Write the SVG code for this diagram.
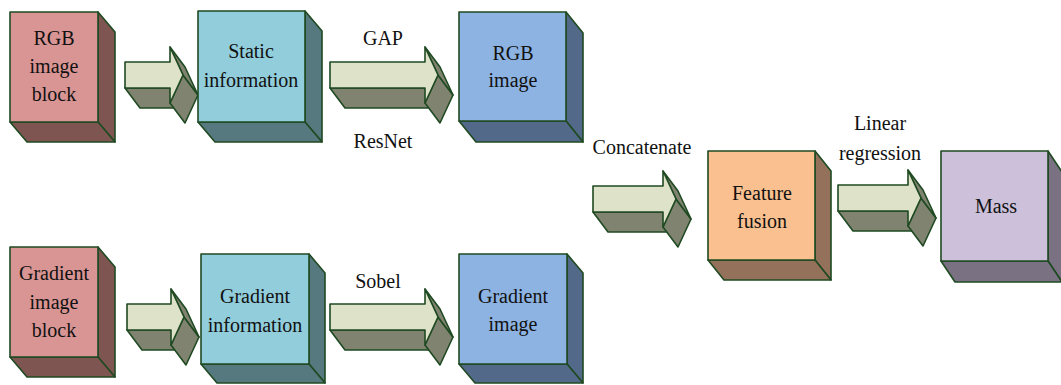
<svg xmlns="http://www.w3.org/2000/svg" width="1061" height="385" viewBox="0 0 1061 385">
  <style>
    .edge { stroke: #1f4a22; stroke-width: 1.6; stroke-linejoin: round; }
    text { font-family: 'Liberation Serif', Tinos, 'Times New Roman', 'DejaVu Serif', serif; font-size: 20px; fill: #111; text-anchor: middle; stroke: none; }
    .pink .f { fill: #d99594; } .pink .s { fill: #7f5551; }
    .cyan .f { fill: #92cddc; } .cyan .s { fill: #56787f; }
    .blue .f { fill: #8db3e2; } .blue .s { fill: #53698a; }
    .peach .f { fill: #fac08f; } .peach .s { fill: #94715a; }
    .lilac .f { fill: #ccc0da; } .lilac .s { fill: #7a7283; }
    .arrow .f { fill: #dde2c9; } .arrow .s { fill: #7f8370; }
  </style>

  <rect width="1061" height="385" fill="#ffffff"/>

  <!-- 3D block arrows -->
  <g id="connectors" class="arrow">
    <!-- RGB image block -> Static information (cy=75) -->
    <g class="edge">
      <polygon class="s" points="125,88 170,88 185,108 140,108"/>
      <polygon class="s" points="183,75 198,95 185,123 170,103"/>
      <polygon class="s" points="170,47 185,67 198,95 183,75"/>
      <polygon class="f" points="125,62 170,62 170,47 183,75 170,103 170,88 125,88"/>
    </g>
    <!-- Static information -> RGB image -->
    <g class="edge">
      <polygon class="s" points="330,88 425,88 440,108 345,108"/>
      <polygon class="s" points="438,75 453,95 440,123 425,103"/>
      <polygon class="s" points="425,47 440,67 453,95 438,75"/>
      <polygon class="f" points="330,62 425,62 425,47 438,75 425,103 425,88 330,88"/>
    </g>
    <!-- Gradient image block -> Gradient information (cy=317) -->
    <g class="edge">
      <polygon class="s" points="127,330 171,330 186,350 142,350"/>
      <polygon class="s" points="184,317 199,337 186,365 171,345"/>
      <polygon class="s" points="171,289 186,309 199,337 184,317"/>
      <polygon class="f" points="127,304 171,304 171,289 184,317 171,345 171,330 127,330"/>
    </g>
    <!-- Gradient information -> Gradient image -->
    <g class="edge">
      <polygon class="s" points="330,330 425,330 440,350 345,350"/>
      <polygon class="s" points="438,317 453,337 440,365 425,345"/>
      <polygon class="s" points="425,289 440,309 453,337 438,317"/>
      <polygon class="f" points="330,304 425,304 425,289 438,317 425,345 425,330 330,330"/>
    </g>
    <!-- Concatenate -> Feature fusion (cy=199) -->
    <g class="edge">
      <polygon class="s" points="593,212 663,212 678,232 608,232"/>
      <polygon class="s" points="676,199 691,219 678,247 663,227"/>
      <polygon class="s" points="663,171 678,191 691,219 676,199"/>
      <polygon class="f" points="593,186 663,186 663,171 676,199 663,227 663,212 593,212"/>
    </g>
    <!-- Feature fusion -> Mass (cy=198) -->
    <g class="edge">
      <polygon class="s" points="838,211 908,211 923,231 853,231"/>
      <polygon class="s" points="921,198 936,218 923,246 908,226"/>
      <polygon class="s" points="908,170 923,190 936,218 921,198"/>
      <polygon class="f" points="838,185 908,185 908,170 921,198 908,226 908,211 838,211"/>
    </g>
  </g>

  <!-- Arrow labels -->
  <g id="edge-labels">
    <text x="383" y="45">GAP</text>
    <text x="383" y="148">ResNet</text>
    <text x="378" y="288">Sobel</text>
    <text x="642" y="154">Concatenate</text>
    <text x="880" y="130">Linear</text>
    <text x="880" y="160">regression</text>
  </g>

  <!-- Blocks: right face, bottom face, then front face with label -->
  <g id="rgb-image-block" class="pink edge">
    <polygon class="s" points="98,12 115,32 115,142 98,122"/>
    <polygon class="s" points="10,122 98,122 115,142 27,142"/>
    <rect class="f" x="10" y="12" width="88" height="110"/>
    <text x="54" y="45">RGB</text><text x="54" y="73">image</text><text x="54" y="101">block</text>
  </g>

  <g id="static-information" class="cyan edge">
    <polygon class="s" points="305,11 322,31 322,142 305,122"/>
    <polygon class="s" points="198,122 305,122 322,142 215,142"/>
    <rect class="f" x="198" y="11" width="107" height="111"/>
    <text x="251" y="58">Static</text><text x="251" y="87">information</text>
  </g>

  <g id="rgb-image" class="blue edge">
    <polygon class="s" points="566,12 583,33 583,142 566,121"/>
    <polygon class="s" points="459,121 566,121 583,142 476,142"/>
    <rect class="f" x="459" y="12" width="107" height="109"/>
    <text x="513" y="60">RGB</text><text x="513" y="87">image</text>
  </g>

  <g id="gradient-image-block" class="pink edge">
    <polygon class="s" points="98,247 115,267 115,377 98,357"/>
    <polygon class="s" points="10,357 98,357 115,377 27,377"/>
    <rect class="f" x="10" y="247" width="88" height="110"/>
    <text x="54" y="280">Gradient</text><text x="54" y="309">image</text><text x="54" y="337">block</text>
  </g>

  <g id="gradient-information" class="cyan edge">
    <polygon class="s" points="309,254 325,273 325,383 309,364"/>
    <polygon class="s" points="201,364 309,364 325,383 217,383"/>
    <rect class="f" x="201" y="254" width="108" height="110"/>
    <text x="255" y="303">Gradient</text><text x="255" y="332">information</text>
  </g>

  <g id="gradient-image" class="blue edge">
    <polygon class="s" points="567,254 583,273 583,383 567,364"/>
    <polygon class="s" points="459,364 567,364 583,383 475,383"/>
    <rect class="f" x="459" y="254" width="108" height="110"/>
    <text x="513" y="303">Gradient</text><text x="513" y="331">image</text>
  </g>

  <g id="feature-fusion" class="peach edge">
    <polygon class="s" points="815,151 831,171 831,280 815,260"/>
    <polygon class="s" points="708,260 815,260 831,280 724,280"/>
    <rect class="f" x="708" y="151" width="107" height="109"/>
    <text x="762" y="200">Feature</text><text x="762" y="228">fusion</text>
  </g>

  <g id="mass" class="lilac edge">
    <polygon class="s" points="1048,151 1062,172 1062,282 1048,261"/>
    <polygon class="s" points="941,261 1048,261 1062,282 955,282"/>
    <rect class="f" x="941" y="151" width="107" height="110"/>
    <text x="996" y="213">Mass</text>
  </g>
</svg>
